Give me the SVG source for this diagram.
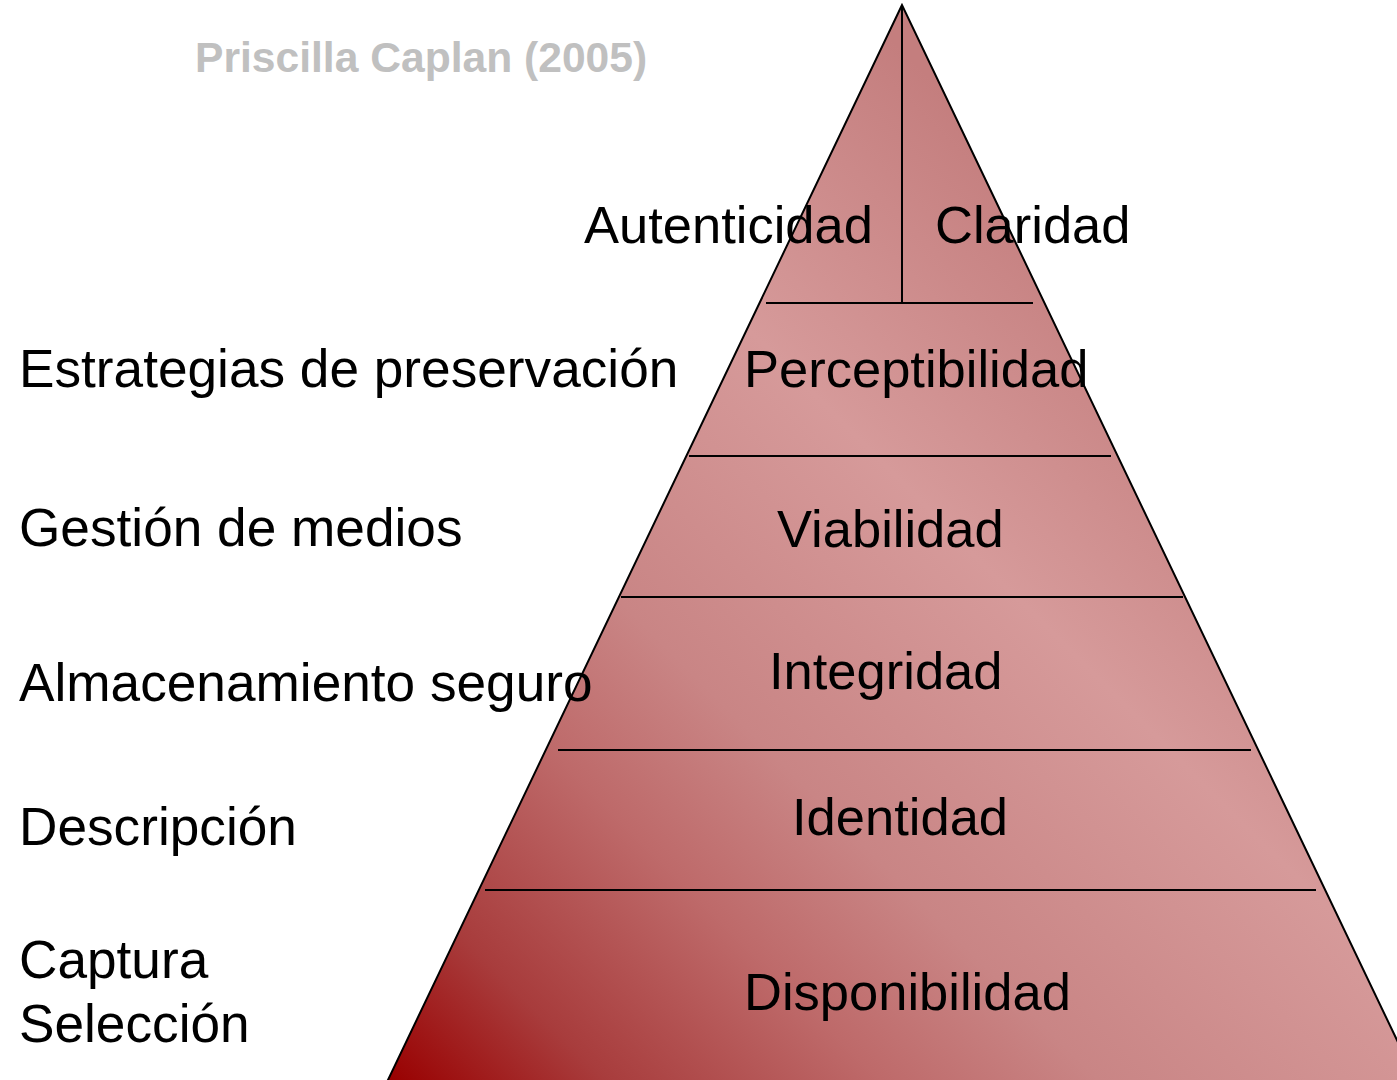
<svg xmlns="http://www.w3.org/2000/svg" width="1397" height="1080" viewBox="0 0 1397 1080">
<style>
.t{font-family:"Liberation Sans",Arial,sans-serif;font-size:52.5px;fill:#000}
.l{font-family:"Liberation Sans",Arial,sans-serif;font-size:53.2px;fill:#000}
.ttl{font-family:"Liberation Sans",Arial,sans-serif;font-size:42.6px;font-weight:bold;fill:#c0c0c0}
.ln{stroke:#000;stroke-width:2;fill:none}
</style>
<defs>
<linearGradient id="g" gradientUnits="userSpaceOnUse" x1="388" y1="1080" x2="1160" y2="308">
<stop offset="0" stop-color="#990000"/>
<stop offset="0.14" stop-color="#a83c3c"/>
<stop offset="0.32" stop-color="#be6a6a"/>
<stop offset="0.46" stop-color="#c98585"/>
<stop offset="0.72" stop-color="#d69a9a"/>
<stop offset="1" stop-color="#c47e7e"/>
</linearGradient>
</defs>
<rect width="1397" height="1080" fill="#fff"/>
<g id="pyramid">
<polygon points="902,5 387,1082 1417,1082" fill="url(#g)" stroke="#000" stroke-width="2"/>
</g>
<g id="connectors">
<line class="ln" x1="902" y1="5" x2="902" y2="303"/>
<line class="ln" x1="766" y1="303" x2="1033" y2="303"/>
<line class="ln" x1="689" y1="456" x2="1111" y2="456"/>
<line class="ln" x1="621" y1="597" x2="1183" y2="597"/>
<line class="ln" x1="558" y1="750" x2="1251" y2="750"/>
<line class="ln" x1="485" y1="890" x2="1316" y2="890"/>
</g>
<g id="title"><text class="ttl" x="195" y="72">Priscilla Caplan (2005)</text></g>
<g id="autenticidad"><text class="t" x="584" y="243">Autenticidad</text></g>
<g id="claridad"><text class="t" x="935" y="243">Claridad</text></g>
<g id="perceptibilidad"><text class="t" x="744" y="387">Perceptibilidad</text></g>
<g id="viabilidad"><text class="t" x="777" y="547">Viabilidad</text></g>
<g id="integridad"><text class="t" x="769" y="689">Integridad</text></g>
<g id="identidad"><text class="t" x="792" y="835">Identidad</text></g>
<g id="disponibilidad"><text class="t" x="744" y="1010">Disponibilidad</text></g>
<g id="estrategias"><text class="l" x="19" y="387">Estrategias de preservación</text></g>
<g id="gestion"><text class="l" x="19" y="546">Gestión de medios</text></g>
<g id="almacenamiento"><text class="l" x="19" y="701">Almacenamiento seguro</text></g>
<g id="descripcion"><text class="l" x="19" y="845">Descripción</text></g>
<g id="captura"><text class="l" x="19" y="978">Captura</text><text class="l" x="19" y="1042">Selección</text></g>
</svg>
